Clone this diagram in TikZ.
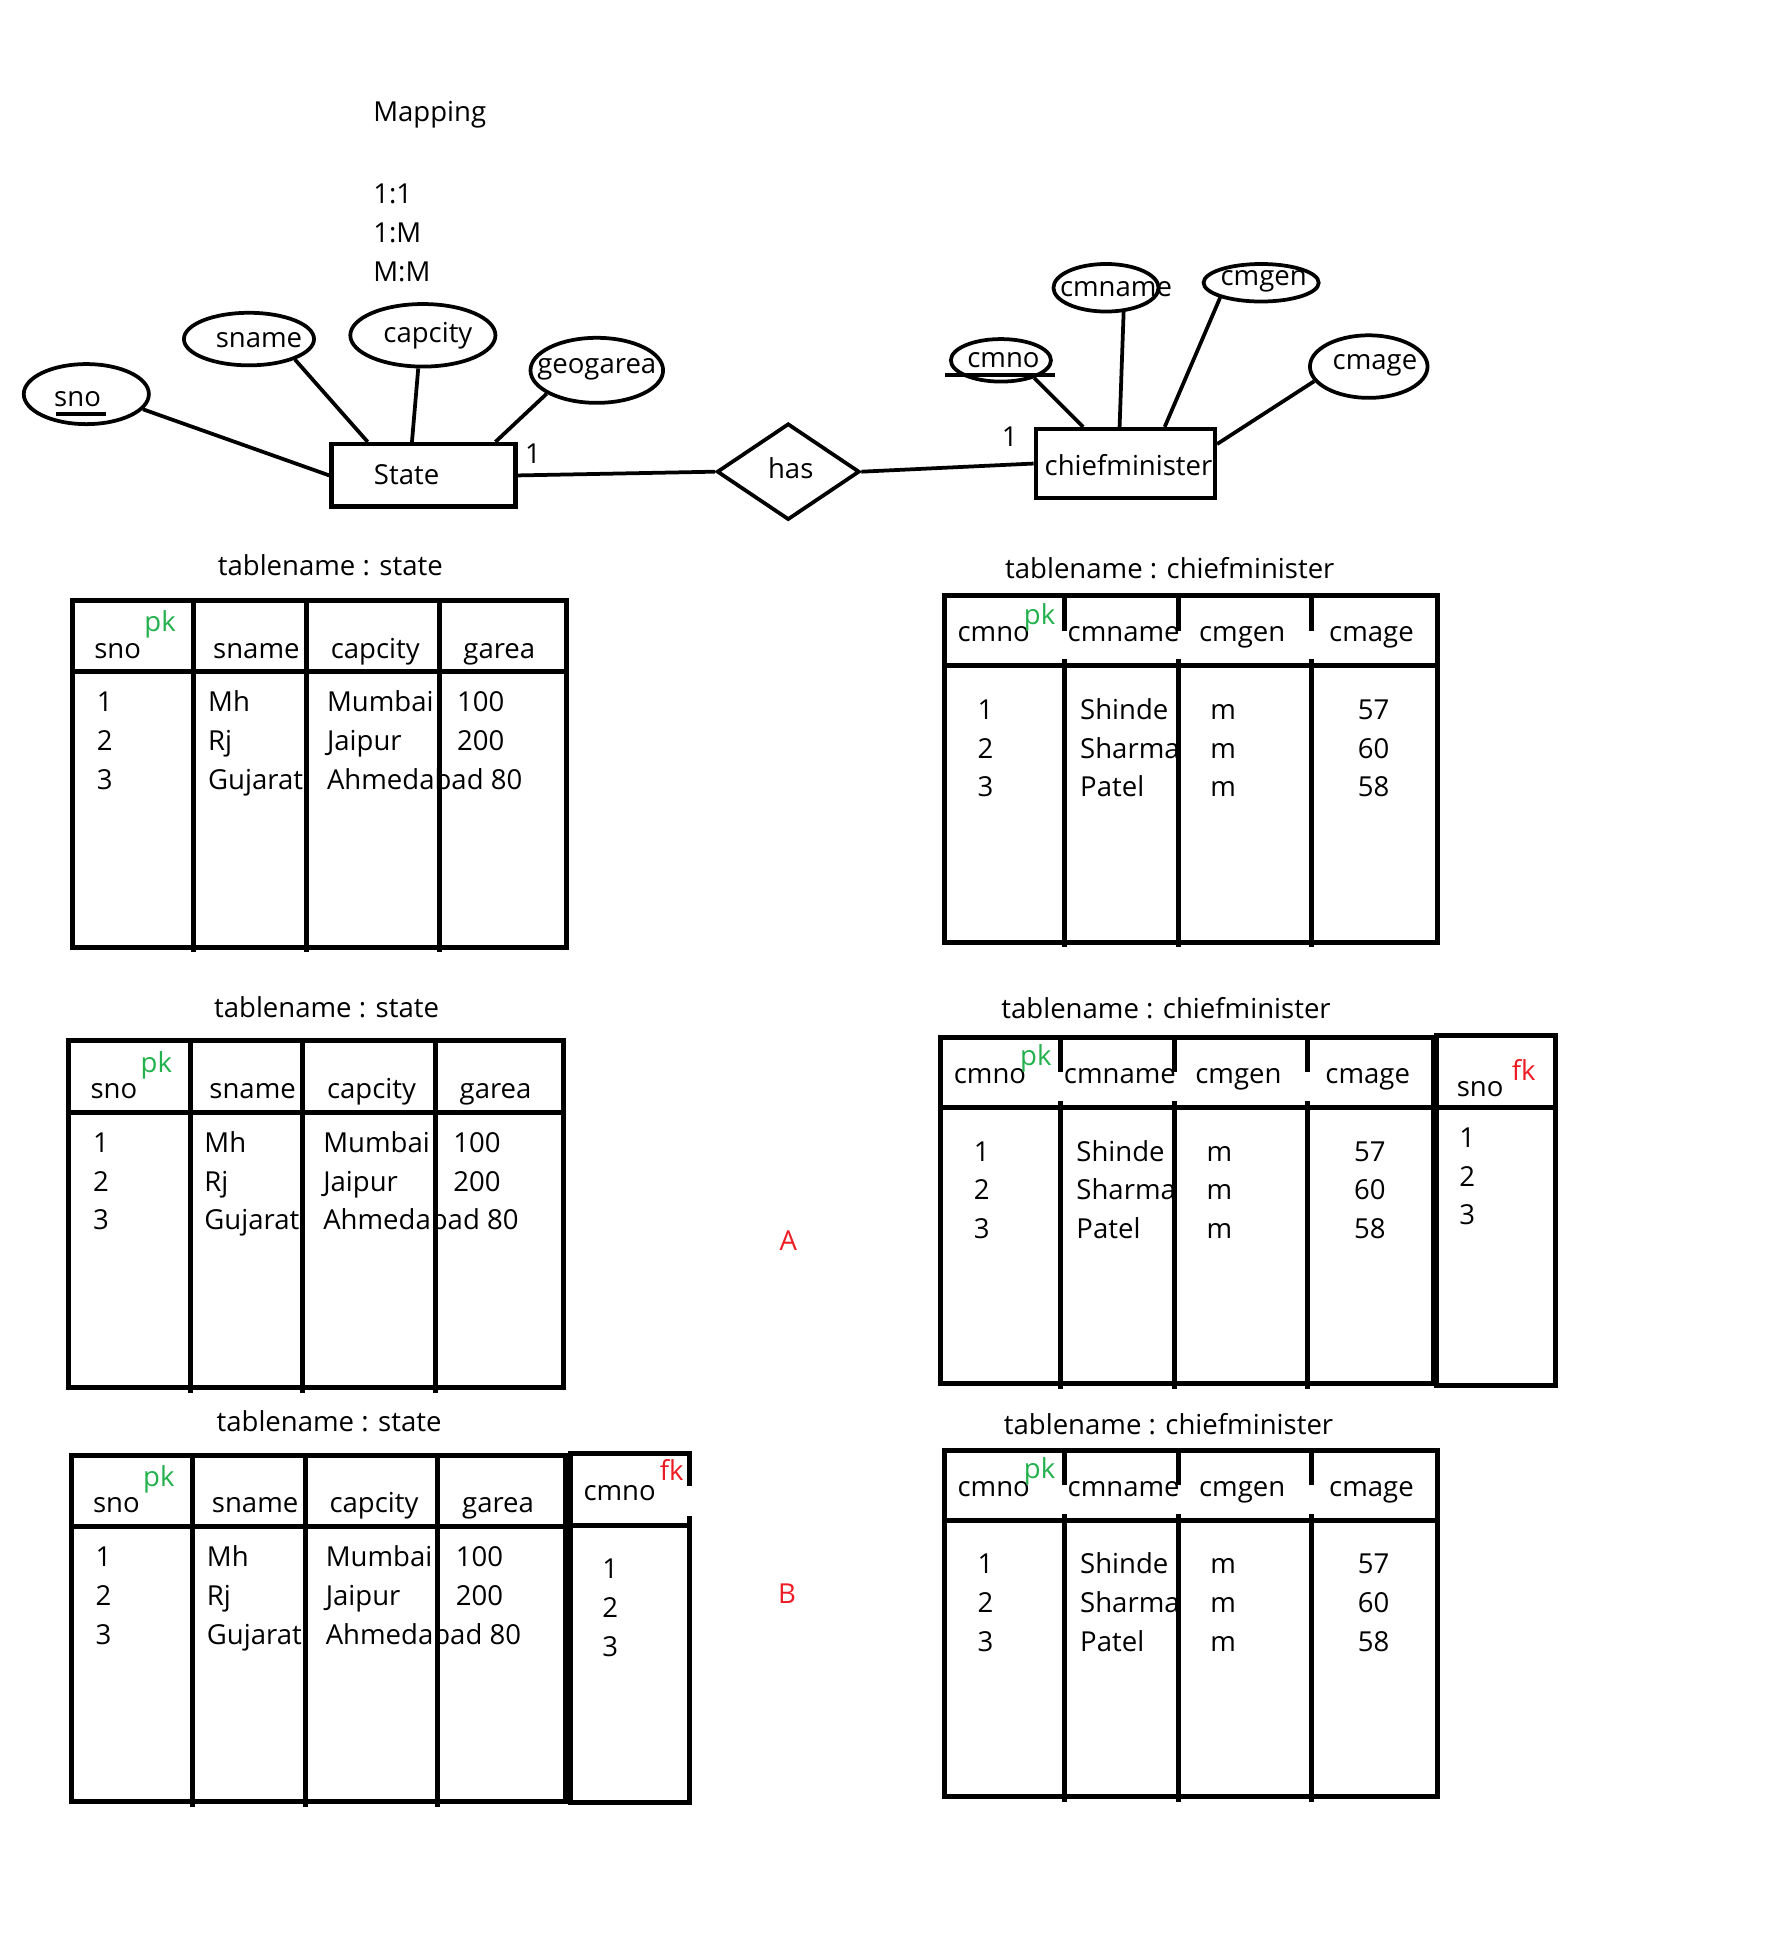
\documentclass[tikz,border=0pt]{standalone}
\usepackage{fontspec}
\setmainfont{Open Sans}
\usetikzlibrary{shapes.geometric}
\tikzstyle{paper} = [x = .5pt, y = -.5pt]
\definecolor{pkColor}{RGB}{34,177,76}
\definecolor{fkColor}{RGB}{237,28,36}
\tikzstyle{plainText} = [font=\fontsize{11}{13}\selectfont, inner sep=0]
\tikzstyle{cellText} = [plainText, anchor=base west]
\tikzstyle{tableLine} = [line width=2pt]
\tikzstyle{erLine} = [line width=1.5pt]
\tikzstyle{attributeStyle} = [draw, ellipse, line width=1.5pt, inner sep=0]
\tikzstyle{entityStyle} = [draw, rectangle, line width=1.8pt, inner sep=0]
\tikzstyle{relationStyle} = [draw, diamond, line width=1.5pt, inner sep=0]
\newcommand{\attribute}[8]{
  \node [attributeStyle, minimum width=#4pt, minimum height=#5pt] (#1) at (#2,#3) {};
  \node [plainText] (#1Text) at ($(#1)+(#6,#7)$) {#8};
}
\usetikzlibrary{calc}
\newcommand{\stateTable}[3]{
  \begin{scope}[shift={(#2,#3)}]
    \node [cellText] (#1Sno) at (17,46) {sno};
    \node [cellText, text=pkColor] (#1Pk) at (57,25) {pk};
    \node [cellText] (#1Sname) at (112,46) {sname};
    \node [cellText] (#1Capcity) at (206,46) {capcity};
    \node [cellText] (#1Garea) at (312,46) {garea};
    \foreach \sNo/\sName/\sCap/\sArea [count=\r] in {1/Mh/Mumbai/100, 2/Rj/Jaipur/200, 3/Gujarat/Ahmedabad 80/} {
      \pgfmathsetmacro{\rowY}{89 + 31 * (\r - 1)}
      \node [cellText] (#1No\r) at (19,\rowY) {\sNo};
      \node [cellText] (#1Name\r) at (108,\rowY) {\sName};
      \node [cellText] (#1Cap\r) at (203,\rowY) {\sCap};
      \node [cellText] (#1Area\r) at (307,\rowY) {\sArea};
    }
    \draw [tableLine] (0,0) rectangle (395,277);
    \draw [tableLine] (0,57) -- (395,57);
    \foreach \column in {97,187,293} {
      \draw [tableLine] (\column,0) -- (\column,281);
    }
  \end{scope}
}
\newcommand{\chiefTable}[3]{
  \begin{scope}[shift={(#2,#3)}]
    \node [cellText] (#1Cmno) at (10,37) {cmno};
    \node [cellText, text=pkColor] (#1Pk) at (63,23) {pk};
    \node [cellText] (#1Cmname) at (98,37) {cmname};
    \node [cellText] (#1Cmgen) at (203,37) {cmgen};
    \node [cellText] (#1Cmage) at (307,37) {cmage};
    \foreach \cNo/\cName/\cGen/\cAge [count=\r] in {1/Shinde/m/57, 2/Sharma/m/60, 3/Patel/m/58} {
      \pgfmathsetmacro{\rowY}{99 + 31 * (\r - 1)}
      \node [cellText] (#1No\r) at (26,\rowY) {\cNo};
      \node [cellText] (#1Name\r) at (108,\rowY) {\cName};
      \node [cellText] (#1Gen\r) at (212,\rowY) {\cGen};
      \node [cellText] (#1Age\r) at (330,\rowY) {\cAge};
    }
    \draw [tableLine] (0,0) rectangle (394,277);
    \draw [tableLine] (0,56) -- (394,56);
    \foreach \column in {96,187,293} {
      \draw [tableLine] (\column,0) -- (\column,28);
      \draw [tableLine] (\column,51) -- (\column,281);
    }
  \end{scope}
}

\begin{document}
\begin{tikzpicture}[paper]
  \useasboundingbox (0,0) rectangle (1414,1553);

  % mapping
  \node [plainText, anchor=west] (mapping) at (298,92) {Mapping};
  \node [plainText, anchor=west] (oneOne) at (298,155) {1:1};
  \node [plainText, anchor=west] (oneMany) at (298,186) {1:M};
  \node [plainText, anchor=west] (manyMany) at (298,217) {M:M};

  % er diagram
  \node [entityStyle, minimum width=73.5pt, minimum height=25pt] (state) at (338.5,380) {};
  \node [plainText] (stateText) at (325,379) {State};
  \node [relationStyle, minimum width=57pt, minimum height=38.5pt] (has) at (630,377) {};
  \node [plainText] (hasText) at (632,374) {has};
  \node [entityStyle, minimum width=71.5pt, minimum height=27.5pt] (chiefminister) at (899.5,370.5) {};
  \node [plainText] (chiefministerText) at (902,372) {chiefminister};

  \attribute{sno}{69}{315}{50}{24}{-7}{4}{sno}
  \attribute{sname}{199}{271}{52}{21}{8}{1}{sname}
  \attribute{capcity}{338}{268}{58}{25}{4}{0}{capcity}
  \attribute{geogarea}{477}{296}{53}{26}{0}{-1}{geogarea}
  \attribute{cmno}{800}{288}{40}{17}{2}{0}{cmno}
  \attribute{cmname}{884}{230}{42}{19}{8}{1}{cmname}
  \attribute{cmgen}{1008}{226}{46}{15}{2}{-1}{cmgen}
  \attribute{cmage}{1094}{293}{47}{25}{5}{-1}{cmage}
  \draw [erLine] (45,331) -- (85,331);
  \draw [erLine] (755,300) -- (843,300);

  \draw [erLine] (sno.-15) -- (state.west);
  \draw [erLine] (sname.-24) -- (state.149);
  \draw [erLine] (capcity.-98) -- (state.109);
  \draw [erLine] (geogarea.205) -- (state.25);
  \draw [erLine] (state.east) -- (has.west);
  \draw [erLine] (has.east) -- (chiefminister.west);
  \draw [erLine] (cmno.-28) -- (chiefminister.139);
  \draw [erLine] (cmname.-54) -- (chiefminister.99);
  \draw [erLine] (cmgen.200) -- (chiefminister.43);
  \draw [erLine] (cmage.195) -- (chiefminister.12);
  \node [plainText] (stateCard) at (426,363) {1};
  \node [plainText] (chiefCard) at (807,349) {1};

  % tables
  \node [plainText] (stateTitleA) at (264,452) {tablename : state};
  \node [plainText] (stateTitleB) at (261,805) {tablename : state};
  \node [plainText] (stateTitleC) at (263,1136) {tablename : state};
  \node [plainText] (chiefTitleA) at (935,454) {tablename : chiefminister};
  \node [plainText] (chiefTitleB) at (932,806) {tablename : chiefminister};
  \node [plainText] (chiefTitleC) at (934,1138) {tablename : chiefminister};

  \stateTable{stateA}{58}{480}
  \stateTable{stateB}{55}{832}
  \stateTable{stateC}{57}{1163}
  \chiefTable{chiefA}{755}{476}
  \chiefTable{chiefB}{752}{829}
  \chiefTable{chiefC}{755}{1159}

  % foreign keys
  \begin{scope}[shift={(456,1162)}]
    \node [cellText] (stateFkHead) at (10,37) {cmno};
    \node [cellText, text=fkColor] (stateFk) at (71,21) {fk};
    \foreach \r in {1,2,3} {
      \pgfmathsetmacro{\rowY}{100 + 31 * (\r - 1)}
      \node [cellText] (stateFkNo\r) at (25,\rowY) {\r};
    }
    \draw [tableLine] (95,26) -- (95,0) -- (0,0) -- (0,279) -- (95,279) -- (95,50);
    \draw [tableLine] (0,57) -- (95,57);
  \end{scope}
  \begin{scope}[shift={(1148,828)}]
    \node [cellText] (chiefFkHead) at (16,48) {sno};
    \node [cellText, text=fkColor] (chiefFk) at (60,36) {fk};
    \foreach \r in {1,2,3} {
      \pgfmathsetmacro{\rowY}{89 + 31 * (\r - 1)}
      \node [cellText] (chiefFkNo\r) at (18,\rowY) {\r};
    }
    \draw [tableLine] (0,0) rectangle (95,279);
    \draw [tableLine] (0,57) -- (95,57);
  \end{scope}

  \node [plainText, text=fkColor] (optionA) at (630,992) {A};
  \node [plainText, text=fkColor] (optionB) at (629,1274) {B};
\end{tikzpicture}
\end{document}
